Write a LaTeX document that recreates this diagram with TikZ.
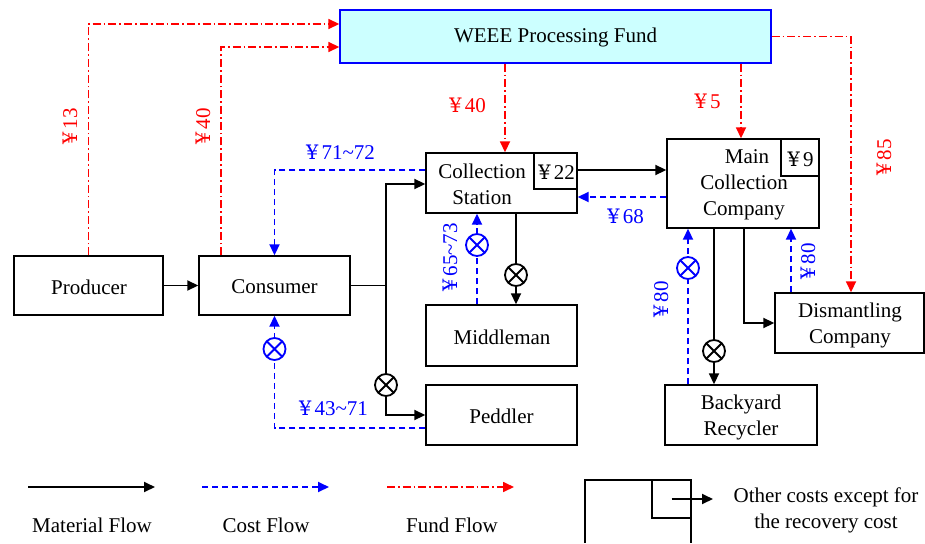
\documentclass[tikz,border=0pt]{standalone}
\usepackage{fontspec}
\setmainfont{Liberation Serif}
\newfontfamily\yenfont{DejaVu Serif}
\usetikzlibrary{arrows.meta}
\definecolor{fundred}{RGB}{255,0,0}
\definecolor{costblue}{RGB}{0,0,255}
\definecolor{fundfill}{RGB}{204,255,255}
\newcommand\Yn{\kern0.05em{\yenfont\scalebox{0.92}[0.95]{¥}}\kern0.15em}
\tikzset{
 box/.style={draw=black, line width=1.4pt, inner sep=0pt},
 txt/.style={font=\fontsize{21}{26}\selectfont, inner sep=0pt, align=center},
 tip/.style={-{Triangle[length=11pt,width=10pt]}},
 mat/.style={draw=black, line width=1.8pt, tip},
 matline/.style={draw=black, line width=1.8pt},
 cost/.style={draw=costblue, line width=1.9pt, dash pattern=on 6pt off 4pt, tip},
 fund/.style={draw=fundred, line width=1.7pt, dash pattern=on 8pt off 3pt on 1.7pt off 3pt, tip},
 otimes/.style={circle, draw=#1, line width=1.8pt, minimum size=22pt, inner sep=0pt, fill=white,
   path picture={\draw[#1, line width=1.8pt] (path picture bounding box.north west)--(path picture bounding box.south east) (path picture bounding box.north east)--(path picture bounding box.south west);}},
 rl/.style={txt, text=fundred},
 bl/.style={txt, text=costblue},
}
\begin{document}
\begin{tikzpicture}[x=1pt,y=-1pt]
\useasboundingbox (0,0) rectangle (925,543);
% boxes
\node[box, draw=costblue, fill=fundfill, minimum width=431pt, minimum height=53pt] (fund) at (555.5,36.5) {};
\node[txt] (fundt) at (555.5,37) {WEEE Processing Fund};
\node[box, minimum width=149pt, minimum height=59pt] (prod) at (88.5,285.5) {};
\node[txt] (prodt) at (89,287) {Producer};
\node[box, minimum width=151pt, minimum height=59pt] (cons) at (274.5,285.5) {};
\node[txt] (const) at (274.5,287) {Consumer};
\node[box, minimum width=151pt, minimum height=60pt] (cs) at (501.5,183) {};
\node[box, minimum width=43pt, minimum height=36pt] (csc) at (555.5,171) {};
\node[txt] (csct) at (556,172) {\Yn22};
\node[txt] (cst) at (482,184) {Collection\\Station};
\node[box, minimum width=152pt, minimum height=89pt] (main) at (743,183.5) {};
\node[box, minimum width=38pt, minimum height=37pt] (mainc) at (800,157.5) {};
\node[txt] (mainct) at (800,159) {\Yn9};
\node[txt] (maint) at (744,185) {\hspace*{6pt}Main\\Collection\\Company};
\node[box, minimum width=151pt, minimum height=61pt] (mid) at (501.5,335.5) {};
\node[txt] (midt) at (502,337) {Middleman};
\node[box, minimum width=151pt, minimum height=60pt] (ped) at (501.5,415) {};
\node[txt] (pedt) at (501.5,416) {Peddler};
\node[box, minimum width=152pt, minimum height=60pt] (back) at (741,415) {};
\node[txt] (backt) at (741,417) {Backyard\\Recycler};
\node[box, minimum width=149pt, minimum height=60pt] (dis) at (849.5,323) {};
\node[txt] (dist) at (850,325) {Dismantling\\Company};

% material flow
\draw[mat] (prod) -- (cons);
\coordinate (j1) at (386,285.5);
\draw[matline] (cons.east) -- (j1);
\draw[mat] (j1) |- ([yshift=-1pt]cs.west);
\draw[mat] (j1) |- (ped.west);
\node[otimes=black] (x1) at (386,385) {};
\draw[mat] ([yshift=13pt]cs.east) coordinate (a1) -- (a1 -| main.west);
\draw[mat] ([xshift=14.5pt]cs.south) coordinate (a4) -- (a4 |- mid.north);
\node[otimes=black] (x2) at (516,275) {};
\draw[mat] ([xshift=-29pt]main.south) coordinate (a5) -- (a5 |- back.north);
\node[otimes=black] (x3) at (714,351) {};
\draw[mat] ([xshift=1pt]main.south) |- (dis.west);

% cost flow
\draw[cost] ([yshift=13pt]cs.west) -| (cons.north);
\draw[cost] ([yshift=-13.5pt]main.west) coordinate (a2) -- (a2 -| cs.east);
\draw[cost] ([xshift=-24.5pt]mid.north) coordinate (a3) -- (a3 |- cs.south);
\node[otimes=costblue] (x4) at (477,245) {};
\draw[cost] ([yshift=-13pt]ped.west) -| (cons.south);
\node[otimes=costblue] (x5) at (274.5,349) {};
\draw[cost] ([xshift=-53pt]back.north) coordinate (a6) -- (a6 |- main.south);
\node[otimes=costblue] (x6) at (688,268) {};
\draw[cost] ([xshift=-58.5pt]dis.north) coordinate (a7) -- (a7 |- main.south);

% fund flow
\draw[fund] (prod.north) |- ([yshift=12.5pt]fund.west);
\draw[fund] ([xshift=-53.5pt]cons.north) |- ([yshift=-10.5pt]fund.west);
\draw[fund] ([xshift=-50.5pt]fund.south) coordinate (b1) -- (b1 |- cs.north);
\draw[fund] ([xshift=185.5pt]fund.south) coordinate (b2) -- (b2 |- main.north);
\draw[fund] (fund.east) -| ([xshift=1.5pt]dis.north);

% labels
\node[rl, rotate=90] (l13) at (70,127) {\Yn13};
\node[rl, rotate=90] (l40a) at (203,127) {\Yn40};
\node[rl] (l40b) at (467,105) {\Yn40};
\node[rl] (l5) at (707,101) {\Yn5};
\node[rl, rotate=90] (l85) at (884,158) {\Yn85};
\node[bl] (l7172) at (340,152) {\Yn71\textasciitilde72};
\node[bl] (l68) at (625,216) {\Yn68};
\node[bl, rotate=90] (l6573) at (450,258) {\Yn65\textasciitilde73};
\node[bl] (l4371) at (333,408) {\Yn43\textasciitilde71};
\node[bl, rotate=90] (l80a) at (661,300) {\Yn80};
\node[bl, rotate=90] (l80b) at (808,262) {\Yn80};

% legend
\coordinate (m1) at (28,487); \coordinate (m2) at (155,487);
\coordinate (c1) at (202,487); \coordinate (c2) at (329,487);
\coordinate (f1) at (387,487); \coordinate (f2) at (514,487);
\draw[mat] (m1) -- (m2);
\draw[cost] (c1) -- (c2);
\draw[fund] (f1) -- (f2);
\node[txt] (lm) at (92,525) {Material Flow};
\node[txt] (lc) at (266,525) {Cost Flow};
\node[txt] (lf) at (452,525) {Fund Flow};
\draw[black, line width=1.4pt] (585,543) -- (585,480) -- (691,480) -- (691,543);
\node[box, minimum width=39pt, minimum height=38pt] (lsq) at (671.5,499) {};
\coordinate (la) at (713,499);
\draw[mat] (lsq.center) -- (la);
\node[txt] (lt) at (826,510) {Other costs except for\\the recovery cost};
\end{tikzpicture}
\end{document}
